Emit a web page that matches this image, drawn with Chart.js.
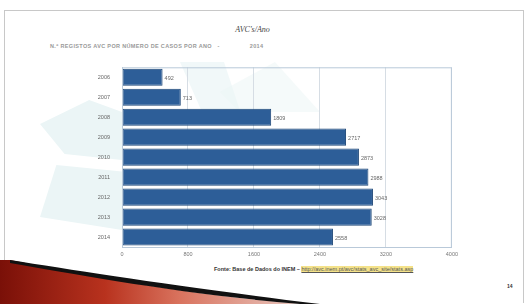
<!DOCTYPE html>
<html>
<head>
<meta charset="utf-8">
<script src="https://cdn.jsdelivr.net/npm/chart.js@4"></script>
<style>
  html, body { margin: 0; padding: 0; background: #fff; }
  body { width: 529px; height: 304px; position: relative; overflow: hidden; font-family: "Liberation Sans", Arial, sans-serif; }
  #slide { position: absolute; left: 4px; top: 10px; width: 518px; height: 292px; border: 1px solid #c8c8c8; border-bottom: none; background: #fff; }
  .deco { position: absolute; background: #ebf5f6; }
  #title { position: absolute; left: 0; width: 505px; top: 25px; text-align: center; font: italic 8px "Liberation Serif", serif; color: #444; }
  #subtitle { position: absolute; left: 50px; top: 43px; font: bold 5.5px "Liberation Sans", sans-serif; color: #999; letter-spacing: 0.35px; }
  #subtitle span { margin-left: 30px; }
  #wrap { position: absolute; left: 90px; top: 60px; width: 372px; height: 201px; }
  #source { position: absolute; left: 214px; top: 266px; font: bold 5.5px "Liberation Sans", sans-serif; color: #333; }
  #source a { color: #555; background: #f4e28a; text-decoration: underline; font-weight: normal; }
  #page { position: absolute; left: 507px; top: 283px; font: bold 5px sans-serif; color: #333; }
  svg { position: absolute; left: 0; top: 0; }
</style>
</head>
<body>
<div id="slide"></div>
<div class="deco" style="left:40px;top:100px;width:82px;height:60px;clip-path:polygon(0 40%,60% 0,100% 20%,100% 100%,30% 90%);"></div>
<div class="deco" style="left:40px;top:165px;width:82px;height:65px;clip-path:polygon(20% 0,100% 10%,100% 100%,0 80%);"></div>
<div class="deco" style="left:180px;top:62px;width:110px;height:50px;clip-path:polygon(0 0,40% 0,55% 100%,20% 100%);opacity:0.7"></div>
<div class="deco" style="left:220px;top:62px;width:100px;height:50px;clip-path:polygon(0 60%,55% 0,100% 100%,20% 100%);opacity:0.5"></div>
<svg width="529" height="304">
  <defs>
    <linearGradient id="red" x1="0" y1="0" x2="1" y2="0">
      <stop offset="0" stop-color="#7a1008"/>
      <stop offset="0.35" stop-color="#b8321e"/>
      <stop offset="0.6" stop-color="#d9735e"/>
      <stop offset="1" stop-color="#e8c8c0"/>
    </linearGradient>
  </defs>
  <path d="M0,260 L10,260 C80,274 180,294 300,304 L0,304 Z" fill="url(#red)"/>
  <path d="M10,260 C80,271 180,287 320,304 L300,304 C180,294 80,275 10,263 Z" fill="#111"/>
</svg>
<div id="title">AVC's/Ano</div>
<div id="subtitle">N.º REGISTOS AVC POR NÚMERO DE CASOS POR ANO&nbsp;&nbsp; -<span>2014</span></div>
<div id="wrap"><canvas id="chart"></canvas></div>
<div id="source">Fonte: Base de Dados do INEM – <a>http://avc.inem.pt/avc/stats_avc_site/stats.asp</a></div>
<div id="page">14</div>
<script>
// Anos e número de registos
const years = ["2006", "2007", "2008", "2009", "2010", "2011", "2012", "2013", "2014"];
const cases = [492, 713, 1809, 2717, 2873, 2988, 3043, 3028, 2558];
const xTicks = [0, 800, 1600, 2400, 3200, 4000];

// Moldura da área do gráfico + etiquetas de valor
const frameAndLabels = {
  id: "frameAndLabels",
  afterDatasetsDraw(chart) {
    const { ctx, chartArea: a } = chart;
    ctx.save();
    ctx.strokeStyle = "#b9c9d9";
    ctx.lineWidth = 1;
    ctx.strokeRect(a.left + 0.5, a.top + 0.5, a.right - a.left - 1, a.bottom - a.top);
    ctx.fillStyle = "#666";
    ctx.font = "5.5px 'Liberation Sans', sans-serif";
    ctx.textBaseline = "middle";
    chart.getDatasetMeta(0).data.forEach((bar, i) => {
      ctx.fillText(cases[i], bar.x + 2, bar.y + 1);
    });
    ctx.restore();
  },
};

new Chart(document.getElementById("chart"), {
  type: "bar",
  plugins: [frameAndLabels],
  data: {
    labels: years,
    datasets: [{
      data: cases,
      backgroundColor: "#2d5e98",
      borderColor: "#1d4676",
      borderWidth: 1,
      borderSkipped: false,
      barPercentage: 0.86,
      categoryPercentage: 1,
    }],
  },
  options: {
    indexAxis: "y",
    responsive: true,
    maintainAspectRatio: false,
    animation: false,
    layout: { padding: { top: 3, right: 0 } },
    plugins: { legend: { display: false }, tooltip: { enabled: false } },
    scales: {
      x: {
        min: 0,
        max: 4000,
        afterBuildTicks: (s) => { s.ticks = xTicks.map((v) => ({ value: v })); },
        afterFit: (s) => { s.height = 14; },
        grid: { color: "#d6dde4", drawTicks: false },
        border: { color: "#b9c9d9" },
        ticks: { color: "#777", font: { size: 5.5 }, padding: 4, maxRotation: 0, callback: (v) => String(v) },
      },
      y: {
        afterFit: (s) => { s.width = 32; },
        grid: { display: false },
        border: { color: "#b9c9d9" },
        ticks: { color: "#666", font: { size: 5.5 }, padding: 4 },
      },
    },
  },
});
</script>
</body>
</html>
